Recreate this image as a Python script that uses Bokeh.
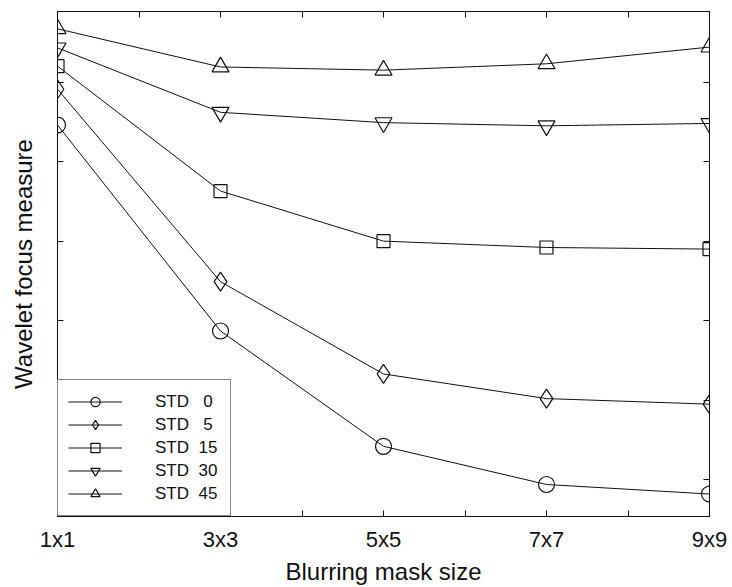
from bokeh.plotting import figure
from bokeh.models import (Range1d, FixedTicker, LinearAxis, Legend, LegendItem,
                          CustomLabelingPolicy)
from bokeh.embed import file_html
from bokeh.resources import INLINE

# Blurring mask sizes (x positions and their labels)
mask_pos = [1, 3, 5, 7, 9]
mask_labels = ["1x1", "3x3", "5x5", "7x7", "9x9"]
mask_between = [2, 4, 6, 8]

# Wavelet focus measure per noise level (arbitrary units)
std0 = [5.46, 2.87, 1.42, 0.94, 0.82]
std5 = [5.91, 3.49, 2.33, 2.02, 1.95]
std15 = [6.20, 4.63, 4.00, 3.92, 3.90]
std30 = [6.43, 5.62, 5.49, 5.45, 5.48]
std45 = [6.67, 6.19, 6.15, 6.23, 6.44]

series_labels = ["STD\u00a0\u00a0\u00a00", "STD\u00a0\u00a0\u00a05",
                 "STD\u00a0\u00a015", "STD\u00a0\u00a030", "STD\u00a0\u00a045"]
series_values = [std0, std5, std15, std30, std45]
series_markers = ["circle", "diamond", "square", "inverted_triangle", "triangle"]
series_sizes = [16, 19, 13, 17, 17]

y_ticks = [1, 2, 3, 4, 5, 6]

FONT = "Liberation Sans"
INK = "#111111"

p = figure(width=732, height=587, output_backend="svg", toolbar_location=None,
           x_range=Range1d(1, 9), y_range=Range1d(0.5375, 6.8875),
           min_border_left=57, min_border_right=23, min_border_top=11,
           min_border_bottom=68, background_fill_color="white",
           border_fill_color="white")
p.grid.visible = False
p.outline_line_color = INK
p.outline_line_width = 1

bottom = p.below[0]
left = p.left[0]


def tick_only_policy():
    # keeps tick marks but shows none of the tick labels
    return CustomLabelingPolicy(code="""
        const all = [...indices]
        for (const i of all) indices.unset(i)
        return indices
    """)


x_ticker = FixedTicker(ticks=mask_pos, minor_ticks=mask_between)
bottom.ticker = x_ticker
bottom.major_label_overrides = dict(zip(mask_pos, mask_labels))
left.ticker = FixedTicker(ticks=y_ticks)

top = LinearAxis(ticker=FixedTicker(ticks=mask_pos, minor_ticks=mask_between))
right = LinearAxis(ticker=FixedTicker(ticks=y_ticks))
p.add_layout(top, "above")
p.add_layout(right, "right")

for ax in (bottom, left, top, right):
    ax.axis_line_color = INK
    ax.axis_line_width = 1
    ax.major_tick_in = 6
    ax.major_tick_out = 0
    ax.minor_tick_in = 6
    ax.minor_tick_out = 0
    ax.major_tick_line_color = INK
    ax.minor_tick_line_color = INK
    ax.major_label_text_font = FONT
    ax.major_label_text_color = INK
    ax.axis_label_text_font = FONT
    ax.axis_label_text_font_style = "normal"
    ax.axis_label_text_color = INK

for ax in (left, top, right):
    ax.major_label_policy = tick_only_policy()
    ax.major_label_text_font_size = "0px"
    ax.major_label_standoff = 0

bottom.major_label_text_font_size = "22px"
bottom.major_label_standoff = 10
bottom.axis_label = "Blurring mask size"
bottom.axis_label_text_font_size = "24px"
bottom.axis_label_standoff = 3

left.axis_label = "Wavelet focus measure"
left.axis_label_text_font_size = "24px"
left.axis_label_standoff = 21

items = []
for lab, vals, mk, sz in zip(series_labels, series_values, series_markers, series_sizes):
    ln = p.line(mask_pos, vals, line_color=INK, line_width=1)
    sc = p.scatter(mask_pos, vals, marker=mk, size=sz, line_color=INK,
                   line_width=1.2, fill_alpha=0)
    items.append(LegendItem(label=lab, renderers=[ln, sc]))

legend = Legend(items=items, location="bottom_left", margin=0, padding=10,
                glyph_width=54, glyph_height=23, spacing=0, label_standoff=33,
                label_width=65, label_height=23, label_text_font=FONT,
                label_text_font_size="17px", label_text_color=INK,
                border_line_color=INK, border_line_width=1,
                background_fill_color="white", background_fill_alpha=1)
p.add_layout(legend, "center")

open("out.html", "w").write(file_html(p, INLINE))
